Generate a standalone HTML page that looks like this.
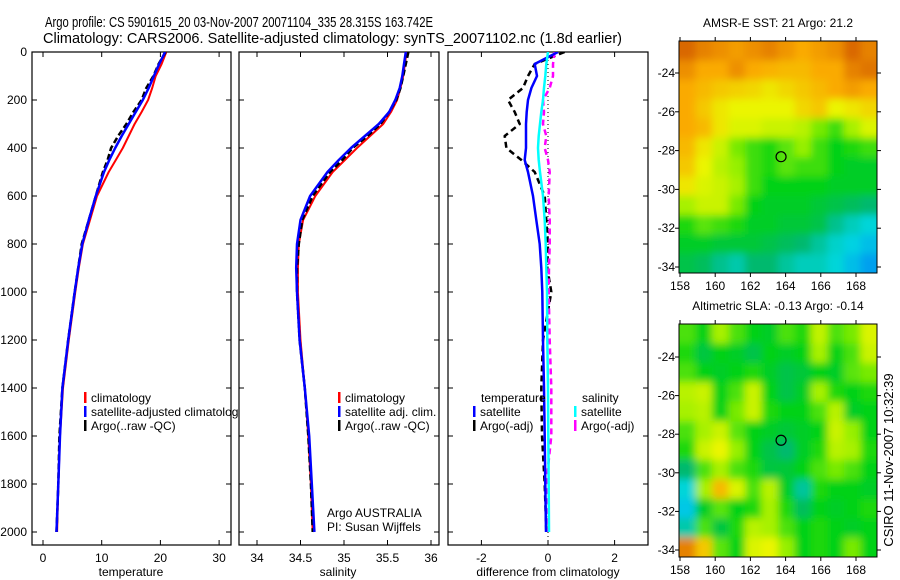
<!DOCTYPE html>
<html><head><meta charset="utf-8"><style>
html,body{margin:0;padding:0;background:#fff;}
svg{display:block;font-family:"Liberation Sans",sans-serif;}
</style></head><body>
<svg id="c" width="900" height="580" viewBox="0 0 900 580">
<text x="45" y="27" font-size="15" textLength="388" lengthAdjust="spacingAndGlyphs">Argo profile: CS 5901615_20 03-Nov-2007 20071104_335 28.315S 163.742E</text>
<text x="43" y="43" font-size="15" textLength="579" lengthAdjust="spacingAndGlyphs">Climatology: CARS2006. Satellite-adjusted climatology: synTS_20071102.nc (1.8d earlier)</text>
<defs>
<clipPath id="cp1"><rect x="32" y="52" width="199" height="493"/></clipPath>
<clipPath id="cp2"><rect x="239" y="52" width="200" height="493"/></clipPath>
<clipPath id="cp3"><rect x="448" y="52" width="200" height="493"/></clipPath>
<clipPath id="cm1"><rect x="679" y="41" width="198" height="232"/></clipPath>
<clipPath id="cm2"><rect x="679" y="324" width="198" height="233"/></clipPath>
<filter id="bl" x="-5%" y="-5%" width="110%" height="110%"><feGaussianBlur stdDeviation="4"/></filter>
<clipPath id="leg1"><rect x="0" y="0" width="239" height="580"/></clipPath>
</defs>
<g id="g"></g>
<text transform="translate(893,460) rotate(-90)" font-size="13" text-anchor="middle">CSIRO 11-Nov-2007 10:32:39</text>
</svg>
<script>
const depths=[0,50,100,150,200,250,300,350,400,450,500,600,700,800,900,1000,1200,1400,1600,1800,2000];
const tempClim=[21.0,20.2,19.2,18.6,17.9,16.8,15.6,14.6,13.6,12.4,11.2,9.2,8.0,6.8,6.1,5.5,4.4,3.4,2.9,2.6,2.4];
const tempSat=[20.8,19.8,18.9,18.0,17.0,15.8,14.6,13.4,12.3,11.3,10.4,9.0,7.8,6.7,6.0,5.4,4.3,3.3,2.9,2.6,2.3];
const tempArgo=[20.9,19.7,18.8,17.6,16.8,15.4,14.2,12.8,11.6,11.0,10.2,9.0,7.8,6.6,6.0,5.4,4.3,3.3,2.8,2.6,2.3];
const salClim=[35.72,35.70,35.68,35.65,35.61,35.54,35.45,35.30,35.15,35.01,34.87,34.67,34.53,34.48,34.47,34.47,34.50,34.55,34.59,34.62,34.64];
const salSat=[35.71,35.69,35.67,35.64,35.59,35.52,35.40,35.24,35.08,34.94,34.81,34.61,34.50,34.46,34.45,34.46,34.49,34.55,34.60,34.63,34.66];
const salArgo=[35.74,35.71,35.68,35.65,35.60,35.52,35.42,35.27,35.10,34.98,34.84,34.64,34.52,34.48,34.46,34.46,34.49,34.55,34.59,34.62,34.64];
const dTempSat=[0.3,-0.4,-0.33,-0.5,-0.6,-0.64,-0.66,-0.66,-0.66,-0.7,-0.6,-0.45,-0.35,-0.25,-0.2,-0.17,-0.15,-0.12,-0.1,-0.08,-0.06];
const dSalSat=[0,-0.05,-0.08,-0.12,-0.15,-0.2,-0.24,-0.28,-0.3,-0.28,-0.24,-0.15,-0.1,-0.07,-0.05,-0.03,-0.02,0,0.01,0.02,0.03];
const dTempArgo=[0.5,-0.4,-0.6,-0.75,-1.2,-1.0,-0.85,-1.3,-1.25,-0.8,-0.4,-0.1,-0.05,0,-0.02,0.1,-0.15,-0.2,-0.18,-0.1,-0.05];
const dSalArgo=[0.2,0.15,0.15,0.05,-0.15,-0.12,-0.15,-0.05,-0.1,0.0,0.05,0.02,0.05,0.05,0.03,0.02,0.05,0.1,0.1,-0.05,-0.02];
const depthTicks=[0,200,400,600,800,1000,1200,1400,1600,1800,2000];
const tempTicks=[0,10,20,30];
const salTicks=[34,34.5,35,35.5,36];
const diffTicks=[-2,0,2];
const latTicks=[-24,-26,-28,-30,-32,-34];
const lonTicks=[158,160,162,164,166,168];
const sstGrid=[
[.90,.86,.84,.82,.84,.86,.83,.80,.82,.84,.90,.86],
[.84,.80,.80,.84,.80,.79,.78,.78,.80,.80,.86,.88],
[.80,.78,.76,.75,.74,.72,.74,.76,.78,.80,.82,.80],
[.80,.76,.72,.70,.70,.70,.70,.74,.76,.70,.72,.74],
[.80,.78,.72,.68,.68,.66,.66,.64,.58,.54,.62,.68],
[.78,.72,.66,.58,.54,.52,.56,.60,.54,.50,.52,.54],
[.76,.70,.64,.60,.54,.52,.56,.54,.54,.50,.48,.48],
[.72,.68,.66,.62,.54,.50,.50,.50,.50,.48,.48,.48],
[.62,.66,.66,.58,.50,.48,.48,.48,.46,.44,.42,.40],
[.52,.56,.54,.52,.48,.48,.46,.46,.44,.36,.30,.26],
[.48,.48,.46,.46,.46,.44,.42,.40,.34,.28,.24,.20],
[.44,.42,.36,.32,.40,.40,.34,.30,.30,.26,.20,.14]];
const slaGrid=[
[.55,.50,.62,.55,.50,.48,.55,.52,.65,.55,.58,.68],
[.52,.45,.50,.48,.44,.50,.48,.50,.62,.50,.55,.66],
[.55,.50,.48,.50,.52,.48,.44,.46,.50,.48,.56,.58],
[.64,.66,.50,.55,.66,.50,.44,.48,.62,.52,.50,.52],
[.62,.64,.50,.58,.66,.52,.50,.50,.55,.64,.48,.50],
[.55,.62,.66,.56,.50,.48,.46,.48,.50,.66,.60,.50],
[.52,.66,.70,.60,.50,.44,.40,.48,.52,.64,.62,.52],
[.40,.55,.62,.55,.52,.45,.46,.50,.55,.58,.55,.50],
[.26,.62,.78,.68,.55,.64,.48,.34,.52,.50,.50,.48],
[.22,.48,.56,.50,.52,.62,.52,.42,.50,.48,.50,.52],
[.32,.55,.45,.52,.64,.62,.55,.50,.52,.50,.48,.50],
[.86,.76,.56,.50,.68,.70,.60,.50,.52,.50,.58,.50]];
const floatLon=163.742, floatLat=-28.315;

const NS='http://www.w3.org/2000/svg';
const G=document.getElementById('g');
function mk(tag,at,parent){const e=document.createElementNS(NS,tag);for(const k in at)e.setAttribute(k,at[k]);(parent||G).appendChild(e);return e;}
const yD=d=>52+d*0.24;
const xT=v=>43+v*5.87, xS=v=>257+(v-34)*87, xDf=v=>548+v*33.3;
function frame(x0,x1,name){const r=mk('rect',{x:x0,y:52,width:x1-x0,height:493,fill:'none',stroke:'#000','stroke-width':1.2});

depthTicks.forEach(d=>{mk('line',{x1:x0,x2:x0+5,y1:yD(d),y2:yD(d),stroke:'#000'});mk('line',{x1:x1,x2:x1-5,y1:yD(d),y2:yD(d),stroke:'#000'});});}
function xticks(ticks,fx,x0,lab,name){ticks.forEach(t=>{const x=fx(t);mk('line',{x1:x,x2:x,y1:545,y2:540,stroke:'#000'});mk('line',{x1:x,x2:x,y1:52,y2:57,stroke:'#000'});
const tx=mk('text',{x:x,y:562,'font-size':12,'text-anchor':'middle'});tx.textContent=t;});
const l=mk('text',{x:lab[0],y:576,'font-size':12,'text-anchor':'middle'});l.textContent=lab[1];}
function line(xs,fx,col,w,dash,clip,name){const pts=xs.map((v,i)=>fx(v).toFixed(1)+','+yD(depths[i]).toFixed(1)).join(' ');
const at={points:pts,fill:'none',stroke:col,'stroke-width':w,'clip-path':'url(#'+clip+')','stroke-linejoin':'round'};if(dash)at['stroke-dasharray']=dash;
const p=mk('polyline',at);}
function legend(x,y,col,txt,name,clip){mk('rect',{x:x,y:y-10,width:2.5,height:11,fill:col});const t=mk('text',{x:x+7,y:y,'font-size':12});t.textContent=txt;if(clip)t.setAttribute('clip-path','url(#'+clip+')');}

frame(32,231,'temperature-panel');
depthTicks.forEach(d=>{const t=mk('text',{x:27,y:yD(d)+4,'font-size':12,'text-anchor':'end'});t.textContent=d;});
xticks(tempTicks,xT,32,[131,'temperature'],'x-axis-title-temperature');
line(tempClim,xT,'#f00',2,null,'cp1','temp-climatology-line');
line(tempArgo,xT,'#000',2.5,'6,3','cp1','temp-argo-line');
line(tempSat,xT,'#00f',2.5,null,'cp1','temp-satellite-line');
legend(84,402,'#f00','climatology','legend-climatology');
legend(84,416,'#00f','satellite-adjusted climatology','legend-satellite-adjusted','leg1');
legend(84,430,'#000','Argo(..raw -QC)','legend-argo');
frame(239,439,'salinity-panel');
xticks(salTicks,xS,239,[338,'salinity'],'x-axis-title-salinity');
line(salClim,xS,'#f00',2,null,'cp2','sal-climatology-line');
line(salArgo,xS,'#000',2.5,'6,3','cp2','sal-argo-line');
line(salSat,xS,'#00f',2.5,null,'cp2','sal-satellite-line');
legend(338,402,'#f00','climatology','legend-sal-climatology');
legend(338,416,'#00f','satellite adj. clim.','legend-sal-satellite');
legend(338,430,'#000','Argo(..raw -QC)','legend-sal-argo');
let t1=mk('text',{x:327,y:517,'font-size':12});t1.textContent='Argo AUSTRALIA';
let t2=mk('text',{x:327,y:531,'font-size':12});t2.textContent='PI: Susan Wijffels';
frame(448,648,'difference-panel');
xticks(diffTicks,xDf,448,[548,'difference from climatology'],'x-axis-title-difference');
mk('line',{x1:xDf(0),x2:xDf(0),y1:52,y2:545,stroke:'#000','stroke-dasharray':'1,3'});
line(dTempArgo,xDf,'#000',2.5,'6,4','cp3','diff-temp-argo-line');
line(dSalArgo,xDf,'#f0f',2.5,'6,4','cp3','diff-sal-argo-line');
line(dTempSat,xDf,'#00f',2.5,null,'cp3','diff-temp-satellite-line');
line(dSalSat,xDf,'#0ff',2.5,null,'cp3','diff-sal-satellite-line');
let t3=mk('text',{x:481,y:402,'font-size':12});t3.textContent='temperature';
let t4=mk('text',{x:582,y:402,'font-size':12});t4.textContent='salinity';
legend(473,416,'#00f','satellite','legend-diff-temp-satellite');
legend(473,430,'#000','Argo(-adj)','legend-diff-temp-argo');
legend(574,416,'#0ff','satellite','legend-diff-sal-satellite');
legend(574,430,'#f0f','Argo(-adj)','legend-diff-sal-argo');

const stops=[[0,[0,90,255]],[0.25,[0,215,225]],[0.4,[0,185,110]],[0.5,[0,210,20]],[0.6,[150,240,0]],[0.7,[235,245,0]],[0.8,[250,170,0]],[0.92,[210,90,0]],[1,[180,50,0]]];
function pal(v){v=Math.max(0,Math.min(1,v));for(let i=1;i<stops.length;i++){if(v<=stops[i][0]){const a=stops[i-1],b=stops[i],f=(v-a[0])/(b[0]-a[0]);return 'rgb('+a[1].map((c,k)=>Math.round(c+(b[1][k]-c)*f)).join(',')+')';}}return 'rgb(180,50,0)';}
function map(grid,x0,y0,w,h,lat24y,lat34y,clip,title,name){
const lonX=l=>680+(l-158)*17.6, latY=l=>lat24y+(-24-l)*(lat34y-lat24y)/10;
const gg=mk('g',{'clip-path':'url(#'+clip+')'});
const inner=mk('g',{filter:'url(#bl)'},gg);
const rows=grid.length,cols=grid[0].length,cw=w/cols,ch=h/rows;
for(let r=0;r<rows;r++)for(let c=0;c<cols;c++){
 const cell=mk('rect',{x:x0+c*cw-(c==0?10:0),y:y0+r*ch-(r==0?10:0),width:cw+0.5+(c==0||c==cols-1?10:0),height:ch+0.5+(r==0||r==rows-1?10:0),fill:pal(grid[r][c])},inner);
 
 }
mk('rect',{x:x0,y:y0,width:w,height:h,fill:'none',stroke:'#000','stroke-width':1});
const ci=mk('circle',{cx:lonX(floatLon),cy:latY(floatLat),r:5,fill:'none',stroke:'#000','stroke-width':1.2});

latTicks.forEach(l=>{const y=latY(l);mk('line',{x1:x0,x2:x0-4,y1:y,y2:y,stroke:'#000'});mk('line',{x1:x0+w,x2:x0+w+4,y1:y,y2:y,stroke:'#000'});
 const t=mk('text',{x:x0-4,y:y+4,'font-size':12,'text-anchor':'end'});t.textContent=l;});
lonTicks.forEach(l=>{const x=lonX(l);mk('line',{x1:x,x2:x,y1:y0+h,y2:y0+h+4,stroke:'#000'});mk('line',{x1:x,x2:x,y1:y0,y2:y0-4,stroke:'#000'});
 const t=mk('text',{x:x,y:y0+h+17,'font-size':12,'text-anchor':'middle'});t.textContent=l;});
const tt=mk('text',{x:778,y:y0-14,'font-size':12,'text-anchor':'middle'});tt.textContent=title;}
map(sstGrid,679,41,198,232,73,267,'cm1','AMSR-E SST: 21 Argo: 21.2','sst-map');
map(slaGrid,679,324,198,233,357,550,'cm2','Altimetric SLA: -0.13 Argo: -0.14','sla-map');
</script>
</body></html>
